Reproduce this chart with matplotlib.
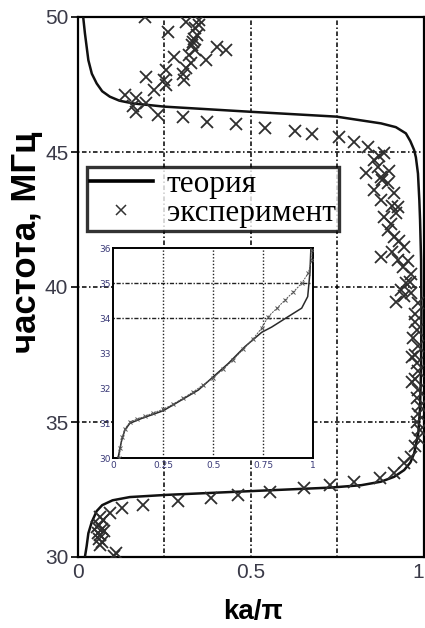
import matplotlib
matplotlib.use("Agg")
import matplotlib.pyplot as plt
from matplotlib.lines import Line2D

# ---- main theory curve (ka/pi, MHz)
theory_ka = [0.02, 0.025, 0.03, 0.04, 0.054, 0.07, 0.10, 0.15, 0.255, 0.5, 0.73, 0.82, 0.877,
             0.915, 0.944, 0.962, 0.973, 0.985, 0.99, 0.993, 0.994, 0.993, 0.99, 0.988, 0.984,
             0.978, 0.973, 0.962, 0.949, 0.92, 0.877, 0.748, 0.499, 0.25, 0.159, 0.12, 0.092,
             0.07, 0.054, 0.04, 0.03, 0.02, 0.015]
theory_f = [30.0, 30.4, 30.88, 31.3, 31.7, 31.92, 32.1, 32.22, 32.3, 32.44, 32.57, 32.66, 32.79,
            32.97, 33.22, 33.5, 33.84, 34.6, 35.5, 37.0, 39.0, 41.0, 42.5, 43.2, 44.2,
            44.8, 45.07, 45.4, 45.69, 45.92, 46.06, 46.31, 46.49, 46.68, 46.8, 46.9, 47.05,
            47.25, 47.54, 47.9, 48.4, 49.4, 50.0]

# ---- main experiment points
exp_ka = [0.193, 0.26, 0.312, 0.35, 0.34, 0.336, 0.333, 0.339, 0.403, 0.427, 0.37, 0.327, 0.312,
          0.279, 0.303, 0.307, 0.255, 0.25, 0.197, 0.221, 0.255, 0.135, 0.169, 0.159, 0.169,
          0.197, 0.231, 0.303, 0.374, 0.458, 0.54, 0.628, 0.676, 0.755, 0.80, 0.839,
          0.887, 0.858, 0.868, 0.834, 0.877, 0.897, 0.858, 0.916, 0.877, 0.925, 0.887, 0.92,
          0.897, 0.916, 0.945, 0.877, 0.925, 0.94, 0.964, 0.95, 0.935, 0.964, 0.983, 0.92, 0.974,
          0.87, 0.90, 0.88, 0.91, 0.905, 0.93, 0.91, 0.955, 0.96, 0.945,
          0.975, 0.98, 0.97, 0.985, 0.975, 0.98, 0.967, 0.985, 0.975, 0.967, 0.985, 0.98, 0.99,
          0.985, 0.98, 0.99, 0.985, 0.975, 0.964, 0.945, 0.916,
          0.873, 0.80, 0.729, 0.655, 0.557, 0.464, 0.384, 0.288, 0.188, 0.126, 0.092, 0.073,
          0.065, 0.06, 0.07, 0.058, 0.065, 0.06, 0.07, 0.063, 0.111, 0.105, 0.055, 0.075,
          0.345, 0.33, 0.35, 0.32]
exp_f = [50.0, 49.46, 49.83, 49.89, 49.6, 49.2, 49.07, 48.76, 48.9, 48.78, 48.4, 48.28, 48.1,
         48.53, 47.9, 47.67, 48.04, 47.67, 47.79, 47.3, 47.5, 47.1, 46.99, 46.7, 46.5,
         46.8, 46.37, 46.29, 46.12, 46.04, 45.9, 45.78, 45.65, 45.57, 45.38, 45.2,
         44.95, 44.7, 44.46, 44.21, 44.09, 43.84, 43.59, 43.47, 43.22, 42.97, 42.6, 42.73,
         42.1, 41.86, 41.49, 41.12, 41.0, 40.75, 40.5, 40.14, 39.89, 39.77, 39.4, 39.46, 39.0,
         44.85, 44.3, 43.95, 43.0, 42.35, 41.7, 41.3, 40.95, 40.2, 39.65,
         38.7, 38.4, 38.1, 37.8, 37.5, 37.2, 37.4, 36.9, 36.6, 36.5, 36.2, 35.9, 35.6,
         35.3, 35.0, 34.7, 34.4, 34.1, 33.7, 33.47, 33.1,
         32.91, 32.79, 32.67, 32.54, 32.42, 32.3, 32.2, 32.09, 31.93, 31.8, 31.62, 31.37,
         31.5, 31.2, 31.05, 30.9, 30.8, 30.65, 30.55, 30.44, 30.14, 30.05, 31.1, 30.95,
         49.35, 48.95, 49.7, 48.6]

# ---- inset
in_theory_ka = [0.02, 0.025, 0.042, 0.058, 0.083, 0.142, 0.25, 0.342, 0.425, 0.50, 0.575, 0.658,
                0.742, 0.792, 0.875, 0.942, 0.972, 0.983, 0.988]
in_theory_f = [30.0, 30.05, 30.52, 30.81, 31.0, 31.14, 31.36, 31.67, 31.95, 32.33, 32.71, 33.19,
               33.6, 33.75, 34.05, 34.29, 34.62, 35.29, 36.0]
in_exp_ka = [0.03, 0.035, 0.045, 0.06, 0.085, 0.12, 0.16, 0.2, 0.25, 0.3, 0.35, 0.4, 0.45, 0.5,
             0.55, 0.6, 0.65, 0.7, 0.742, 0.775, 0.82, 0.858, 0.9, 0.942, 0.975, 0.992, 0.995]
in_exp_f = [30.0, 30.3, 30.6, 30.85, 31.05, 31.12, 31.2, 31.3, 31.4, 31.55, 31.72, 31.9, 32.1,
            32.3, 32.55, 32.82, 33.12, 33.42, 33.72, 34.05, 34.3, 34.52, 34.75, 35.0, 35.29,
            35.67, 35.95]

main_xticks = [0, 0.25, 0.5, 0.75, 1]
main_xticklabels = ['0', '', '0.5', '', '1']
main_yticks = [30, 35, 40, 45, 50]
inset_xticks = [0, 0.25, 0.5, 0.75, 1]
inset_xticklabels = ['0', '0.25', '0.5', '0.75', '1']
inset_yticks = [30, 31, 32, 33, 34, 35, 36]

W, H = 425, 628
fig = plt.figure(figsize=(W / 100, H / 100), dpi=100)
L, R, T, B = 78, 423.5, 17, 557
ax = fig.add_axes([L / W, 1 - B / H, (R - L) / W, (B - T) / H])

gridstyle = dict(color='black', linestyle=(0, (1, 1.6, 3, 1.6)), linewidth=1.1)
ax.plot(theory_ka, theory_f, color='#111111', lw=1.8, zorder=3)
ax.plot(exp_ka, exp_f, ls='none', marker='x', ms=8, mew=1.3, color='#2e2e2e', zorder=4)
ax.set_xlim(0, 1)
ax.set_ylim(30, 50)
ax.set_xticks(main_xticks)
ax.set_xticklabels(main_xticklabels)
ax.set_yticks(main_yticks)
ax.grid(True, **gridstyle)
ax.set_axisbelow(True)
ax.tick_params(axis='x', length=0, pad=4, labelsize=15, labelcolor='#3a3a48')
ax.tick_params(axis='y', direction='out', length=5, width=1.2, pad=2, labelsize=15,
               labelcolor='#3a3a48')
for s in ax.spines.values():
    s.set_linewidth(1.6)
for lab in ax.get_xticklabels() + ax.get_yticklabels():
    lab.set_family(['Liberation Sans', 'DejaVu Sans'])
ax.get_xticklabels()[-1].set_horizontalalignment('right')

fig.text(27 / W, 1 - 242 / H, 'частота, МГц', rotation=90, ha='center', va='center',
         fontsize=25, fontweight='bold', family=['Liberation Sans', 'DejaVu Sans'])
fig.text(253 / W, 1 - 612 / H, 'ka/π', ha='center', va='center',
         fontsize=20, fontweight='bold', family=['Liberation Sans', 'DejaVu Sans'])

# legend
handles = [Line2D([], [], color='black', lw=2.6),
           Line2D([], [], ls='none', marker='x', ms=7, mew=1.1, color='#333333')]
leg = ax.legend(handles, ['теория', 'эксперимент'], loc='upper left',
                bbox_to_anchor=((87 - L) / (R - L), (B - 167) / (B - T)),
                frameon=True, fancybox=False, borderpad=0.1, labelspacing=0.0,
                handlelength=2.0, handletextpad=0.45, borderaxespad=0,
                prop={'family': ['Liberation Serif', 'DejaVu Serif'], 'size': 22.5})
leg.get_frame().set_edgecolor('black')
leg.get_frame().set_linewidth(2.4)
leg.set_zorder(10)

# inset
iL, iR, iT, iB = 113.3, 313.3, 248.3, 458.3
ax2 = fig.add_axes([iL / W, 1 - iB / H, (iR - iL) / W, (iB - iT) / H])
ax2.set_facecolor('white')
ax2.plot(in_theory_ka, in_theory_f, color='#2a2a2a', lw=1.1, zorder=3)
ax2.plot(in_exp_ka, in_exp_f, color='#555555', lw=0.7, ls=(0, (2, 1)), marker='x', ms=3,
         mew=0.7, zorder=4)
ax2.set_xlim(0, 1)
ax2.set_ylim(30, 36)
ax2.set_xticks(inset_xticks)
ax2.set_xticklabels(inset_xticklabels)
ax2.set_yticks(inset_yticks)
inner_grid = dict(color='#222222', linestyle=(0, (1, 1.4)), linewidth=1.0)
for xv in inset_xticks[1:-1]:
    ax2.axvline(xv, **inner_grid, zorder=1)
for yv in (34, 35):
    ax2.axhline(yv, color='#222222', linestyle=(0, (1, 1.2, 3, 1.2)), linewidth=1.0, zorder=1)
ax2.tick_params(length=0, labelsize=6.5, labelcolor='#3a3a78', pad=2)
for s in ax2.spines.values():
    s.set_linewidth(1.4)

fig.savefig('out.png', dpi=100)
